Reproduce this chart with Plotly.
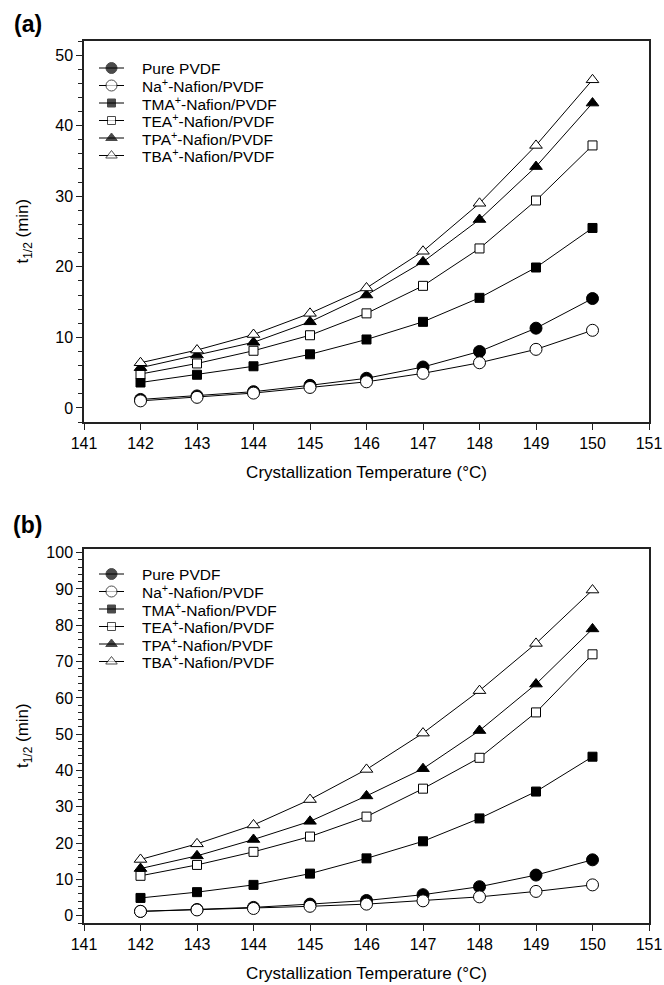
import plotly.graph_objects as go

temps = [142, 143, 144, 145, 146, 147, 148, 149, 150]

series_names = [
    "Pure PVDF",
    "Na<sup>+</sup>-Nafion/PVDF",
    "TMA<sup>+</sup>-Nafion/PVDF",
    "TEA<sup>+</sup>-Nafion/PVDF",
    "TPA<sup>+</sup>-Nafion/PVDF",
    "TBA<sup>+</sup>-Nafion/PVDF",
]

# panel (a)
a_pure = [1.2, 1.7, 2.3, 3.2, 4.2, 5.8, 8.0, 11.3, 15.5]
a_na = [1.0, 1.5, 2.1, 2.9, 3.7, 4.9, 6.4, 8.3, 11.0]
a_tma = [3.6, 4.7, 5.9, 7.6, 9.7, 12.2, 15.6, 19.9, 25.5]
a_tea = [4.8, 6.3, 8.1, 10.3, 13.4, 17.3, 22.6, 29.4, 37.2]
a_tpa = [5.7, 7.5, 9.3, 12.2, 16.0, 20.7, 26.7, 34.2, 43.2]
a_tba = [6.4, 8.2, 10.4, 13.4, 17.0, 22.2, 29.0, 37.2, 46.5]

# panel (b)
b_pure = [1.2, 1.7, 2.3, 3.2, 4.2, 5.8, 8.0, 11.2, 15.4]
b_na = [1.2, 1.6, 2.0, 2.6, 3.2, 4.1, 5.2, 6.7, 8.5]
b_tma = [4.9, 6.5, 8.5, 11.6, 15.8, 20.5, 26.8, 34.2, 43.8]
b_tea = [11.0, 14.0, 17.6, 21.8, 27.3, 35.0, 43.5, 56.0, 72.0]
b_tpa = [13.0, 16.5, 21.0, 26.0, 33.0, 40.5, 51.0, 63.8, 79.0]
b_tba = [15.5, 19.8, 25.0, 32.0, 40.3, 50.3, 62.0, 75.0, 89.7]

symbols = ["circle", "circle", "square", "square", "triangle-up", "triangle-up"]
fills = ["black", "white", "black", "white", "black", "white"]
sizes = [12, 12, 9, 9, 11, 11]

font_family = "Liberation Sans, Arial, sans-serif"

# figure geometry (pixels)
W, H = 664, 985
ML, MR, MT, MB = 84, 15, 41, 62
plot_left, plot_right = ML, W - MR
plot_top, plot_bottom = MT, H - MB
plot_w = plot_right - plot_left
plot_h = plot_bottom - plot_top


def px_to_paper_x(px):
    return (px - plot_left) / plot_w


def px_to_paper_y(py):
    return (plot_bottom - py) / plot_h


fig = go.Figure()

panels = [
    ([a_pure, a_na, a_tma, a_tea, a_tpa, a_tba], "x", "y"),
    ([b_pure, b_na, b_tma, b_tea, b_tpa, b_tba], "x2", "y2"),
]

for data, xa, ya in panels:
    for name, vals, sym, fc, sz in zip(series_names, data, symbols, fills, sizes):
        fig.add_trace(go.Scatter(
            x=temps, y=vals, name=name, mode="lines+markers",
            line=dict(color="black", width=1),
            marker=dict(symbol=sym, color=fc, size=sz,
                        line=dict(color="black", width=1)),
            xaxis=xa, yaxis=ya, showlegend=False,
        ))

# compact legends drawn on a pixel-coordinate overlay axis
legend_tops = [68, 574]      # y pixel of first entry in each panel
legend_step = 17.5
line_x0, line_x1, text_x = 99, 124, 140
annotations = []
for top in legend_tops:
    for i, (name, sym, fc, sz) in enumerate(zip(series_names, symbols, fills, sizes)):
        yy = top + i * legend_step
        fig.add_trace(go.Scatter(
            x=[line_x0, (line_x0 + line_x1) / 2, line_x1], y=[yy, yy, yy],
            mode="lines+markers",
            line=dict(color="black", width=1),
            marker=dict(symbol=sym, color=fc, size=[0, sz - 1, 0],
                        line=dict(color="black", width=1)),
            xaxis="x3", yaxis="y3", showlegend=False, hoverinfo="skip",
        ))
        annotations.append(dict(
            text=name, x=text_x, y=yy, xref="x3", yref="y3",
            xanchor="left", yanchor="middle", showarrow=False,
            height=15, valign="middle",
            font=dict(size=15.5, color="black", family=font_family)))

# panel letters
for label, ypix in [("(a)", 24), ("(b)", 525)]:
    annotations.append(dict(
        text="<b>" + label + "</b>", x=px_to_paper_x(44),
        y=px_to_paper_y(ypix), xref="paper", yref="paper",
        xanchor="right", yanchor="middle", showarrow=False,
        font=dict(size=23, color="black", family=font_family)))

# y-axis titles
dom_a = [0.568, 1.0]
dom_b = [0.0, 0.424]
for dom in (dom_a, dom_b):
    annotations.append(dict(
        text="t<sub>1/2</sub> (min)", x=px_to_paper_x(24),
        y=(dom[0] + dom[1]) / 2, xref="paper", yref="paper",
        xanchor="center", yanchor="middle", textangle=-90, showarrow=False,
        font=dict(size=17, color="black", family=font_family)))

xcommon = dict(
    range=[141, 151], dtick=1, tick0=141, ticks="outside", ticklen=6,
    tickwidth=1, tickcolor="#222", showline=True, linecolor="#222",
    linewidth=1.5, mirror=True, showgrid=False, zeroline=False,
    tickfont=dict(size=16, color="black", family=font_family),
    title=dict(text="Crystallization Temperature (°C)",
               font=dict(size=17, color="black", family=font_family),
               standoff=15),
)
ycommon = dict(
    ticks="outside", ticklen=6, tickwidth=1, tickcolor="#222",
    showline=True, linecolor="#222", linewidth=1.5, mirror=True,
    showgrid=False, zeroline=False,
    tickfont=dict(size=16, color="black", family=font_family),
    minor=dict(dtick=2, ticks="outside", ticklen=4, tickcolor="#222",
               showgrid=False),
)

fig.update_layout(
    width=W, height=H,
    margin=dict(l=ML, r=MR, t=MT, b=MB, autoexpand=False),
    paper_bgcolor="white", plot_bgcolor="rgba(0,0,0,0)",
    font=dict(family=font_family, color="black"),
    xaxis=dict(domain=[0, 1], anchor="y", **xcommon),
    yaxis=dict(domain=dom_a, anchor="x", range=[-2, 52], dtick=10, **ycommon),
    xaxis2=dict(domain=[0, 1], anchor="y2", **xcommon),
    yaxis2=dict(domain=dom_b, anchor="x2", range=[-2, 101], dtick=10,
                **ycommon),
    xaxis3=dict(domain=[0, 1], anchor="y3", range=[plot_left, plot_right],
                visible=False, fixedrange=True),
    yaxis3=dict(domain=[0, 1], anchor="x3", range=[plot_bottom, plot_top],
                visible=False, fixedrange=True),
    annotations=annotations,
    showlegend=False,
)

fig.write_html(
    "out.html",
    config={"displayModeBar": False},
    post_script="document.body.style.margin='0';"
                "document.body.style.overflow='hidden';",
)
